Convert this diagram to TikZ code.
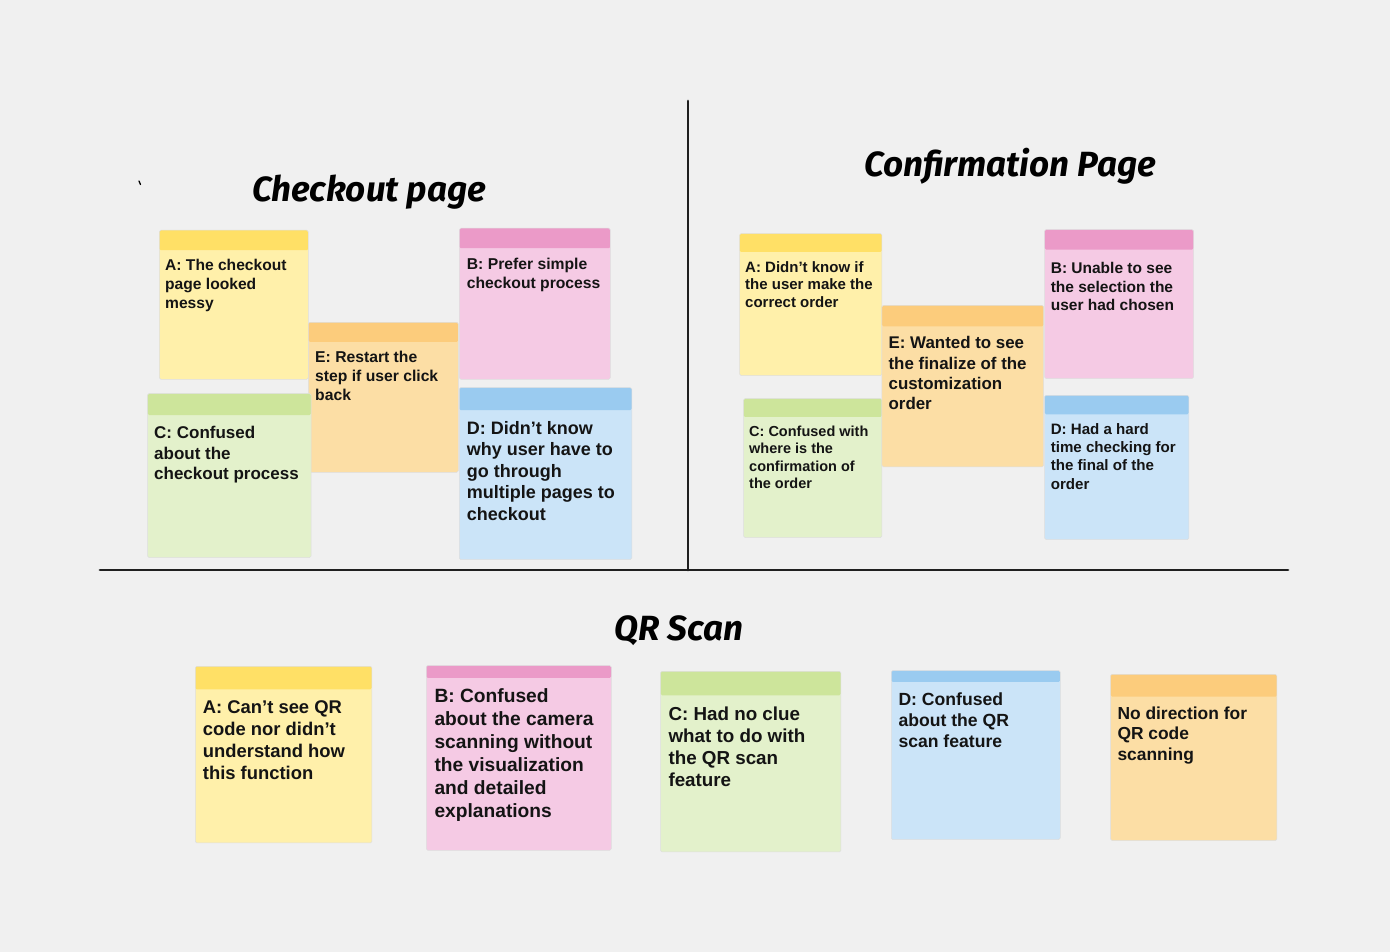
\documentclass[tikz,border=0pt]{standalone}
\usepackage{fontspec}
\setmainfont{Liberation Sans}
\newfontfamily\handfont{Fira Sans}
\usetikzlibrary{positioning,calc}
\definecolor{boardbg}{HTML}{F0F0F0}
\definecolor{Yband}{HTML}{FFE066}
\definecolor{Ybody}{HTML}{FFF0AA}
\definecolor{Oband}{HTML}{FCCC7C}
\definecolor{Obody}{HTML}{FCDEA5}
\definecolor{Pband}{HTML}{EB9AC8}
\definecolor{Pbody}{HTML}{F5CAE4}
\definecolor{Gband}{HTML}{CDE59B}
\definecolor{Gbody}{HTML}{E3F1CB}
\definecolor{Bband}{HTML}{9ACBF0}
\definecolor{Bbody}{HTML}{CBE4F8}
\newcommand\nsize[2]{\fontsize{#1}{#2}\selectfont}
\tikzset{
  divider/.style={line width=2.8pt,draw=black!88,line cap=round},
  heading/.style={font=\handfont\bfseries\itshape\nsize{35}{40},anchor=base,inner sep=0pt},
  % sticky note: colour letter, height of the coloured top band
  note/.style 2 args={anchor=north west,draw=black!13,line width=0.5pt,
    rounded corners=1.5pt,fill=#1body,inner sep=0pt,
    path picture={\fill[#1band] (path picture bounding box.north west)
      rectangle ([yshift=-#2pt]path picture bounding box.north east);}},
  notetxt/.style={anchor=base west,align=left,inner sep=0pt,text=black!92}, % base = last line
}

\begin{document}
\begin{tikzpicture}[x=1pt,y=-1pt]
  \fill[boardbg] (0,0) rectangle (1390,952);
  \useasboundingbox (0,0) rectangle (1390,952);

  % board dividers
  \coordinate (vtop) at (688,101);
  \coordinate (vbot) at (688,570);
  \coordinate (hleft) at (100,570);
  \coordinate (hright) at (1288,570);
  \draw[divider] (vtop) -- (vbot);
  \draw[divider] (hleft) -- (hright);
  \draw[line width=1.3pt,line cap=round] (139,181) -- (140.5,184.5);

  \node[heading] (ckT) at (369,201.7) {Checkout page};
  \node[heading] (cfT) at (1010,177) {Confirmation Page};
  \node[heading] (qrT) at (679,640) {QR Scan};

  % ---- checkout page ----
  \node[note={Y}{20},minimum width=149pt,minimum height=149pt] (ckA) at (159,230) {};
  \node[note={P}{20},minimum width=151pt,minimum height=151pt] (ckB) at (459,228) {};
  \node[note={O}{19.5},minimum width=150pt,minimum height=150pt] (ckE) at (308,322) {};
  \node[note={G}{21.5},minimum width=163.5pt,minimum height=164pt] (ckC) at (147.3,393.3) {};
  \node[note={B}{22.5},minimum width=172.5pt,minimum height=172pt] (ckD) at (459,387.3) {};
  \node[notetxt,font=\bfseries\nsize{15.6}{19}] (ckA-t) at ($(ckA.north west)+(6,78.7)$)
    {A: The checkout\\page looked\\messy};
  \node[notetxt,font=\bfseries\nsize{15.7}{19}] (ckB-t) at ($(ckB.north west)+(7.7,60.3)$)
    {B: Prefer simple\\checkout process};
  \node[notetxt,font=\bfseries\nsize{15.7}{18.8}] (ckE-t) at ($(ckE.north west)+(7,78)$)
    {E: Restart the\\step if user click\\back};
  \node[notetxt,font=\bfseries\nsize{17}{20.7}] (ckC-t) at ($(ckC.north west)+(6.7,86.4)$)
    {C: Confused\\about the\\checkout process};
  \node[notetxt,font=\bfseries\nsize{18}{21.5}] (ckD-t) at ($(ckD.north west)+(7.7,132.7)$)
    {D: Didn’t know\\why user have to\\go through\\multiple pages to\\checkout};

  % ---- confirmation page ----
  \node[note={Y}{18.4},minimum width=142.4pt,minimum height=142pt] (cfA) at (739.3,233.3) {};
  \node[note={P}{20},minimum width=149pt,minimum height=149pt] (cfB) at (1044.3,229.3) {};
  \node[note={G}{18.4},minimum width=138.4pt,minimum height=139pt] (cfC) at (743.3,398.3) {};
  \node[note={O}{21},minimum width=161.6pt,minimum height=161.7pt] (cfE) at (881.7,305) {};
  \node[note={B}{19},minimum width=144.4pt,minimum height=144.3pt] (cfD) at (1044.3,395) {};
  \node[notetxt,font=\bfseries\nsize{15}{17.7}] (cfA-t) at ($(cfA.north west)+(5.7,74.4)$)
    {A: Didn’t know if\\the user make the\\correct order};
  \node[notetxt,font=\bfseries\nsize{15.5}{18.7}] (cfB-t) at ($(cfB.north west)+(6.3,81.4)$)
    {B: Unable to see\\the selection the\\user had chosen};
  \node[notetxt,font=\bfseries\nsize{14.5}{17.3}] (cfC-t) at ($(cfC.north west)+(5.7,90.2)$)
    {C: Confused with\\where is the\\confirmation of\\the order};
  \node[notetxt,font=\bfseries\nsize{16.9}{20.3}] (cfE-t) at ($(cfE.north west)+(6.7,104.6)$)
    {E: Wanted to see\\the finalize of the\\customization\\order};
  \node[notetxt,font=\bfseries\nsize{15.1}{18.3}] (cfD-t) at ($(cfD.north west)+(6.3,94.2)$)
    {D: Had a hard\\time checking for\\the final of the\\order};

  % ---- QR scan ----
  \node[note={Y}{23},minimum width=176.7pt,minimum height=176.7pt] (qrA) at (195,666) {};
  \node[note={P}{12.4},minimum width=185pt,minimum height=184.7pt] (qrB) at (426,665.3) {};
  \node[note={G}{24},minimum width=180.4pt,minimum height=180.7pt] (qrC) at (660.3,671) {};
  \node[note={B}{11.4},minimum width=169pt,minimum height=169pt] (qrD) at (891,670.3) {};
  \node[note={O}{22.3},minimum width=166.4pt,minimum height=166.3pt] (qrE) at (1110.3,674) {};
  \node[notetxt,font=\bfseries\nsize{18.4}{21.9}] (qrA-t) at ($(qrA.north west)+(7.7,113)$)
    {A: Can’t see QR\\code nor didn’t\\understand how\\this function};
  \node[notetxt,font=\bfseries\nsize{19.2}{22.9}] (qrB-t) at ($(qrB.north west)+(8.3,151.9)$)
    {B: Confused\\about the camera\\scanning without\\the visualization\\and detailed\\explanations};
  \node[notetxt,font=\bfseries\nsize{18.8}{22.2}] (qrC-t) at ($(qrC.north west)+(8,115.6)$)
    {C: Had no clue\\what to do with\\the QR scan\\feature};
  \node[notetxt,font=\bfseries\nsize{17.6}{21.3}] (qrD-t) at ($(qrD.north west)+(7.3,77.3)$)
    {D: Confused\\about the QR\\scan feature};
  \node[notetxt,font=\bfseries\nsize{17.4}{20.8}] (qrE-t) at ($(qrE.north west)+(7,86.6)$)
    {No direction for\\QR code\\scanning};
\end{tikzpicture}
\end{document}
